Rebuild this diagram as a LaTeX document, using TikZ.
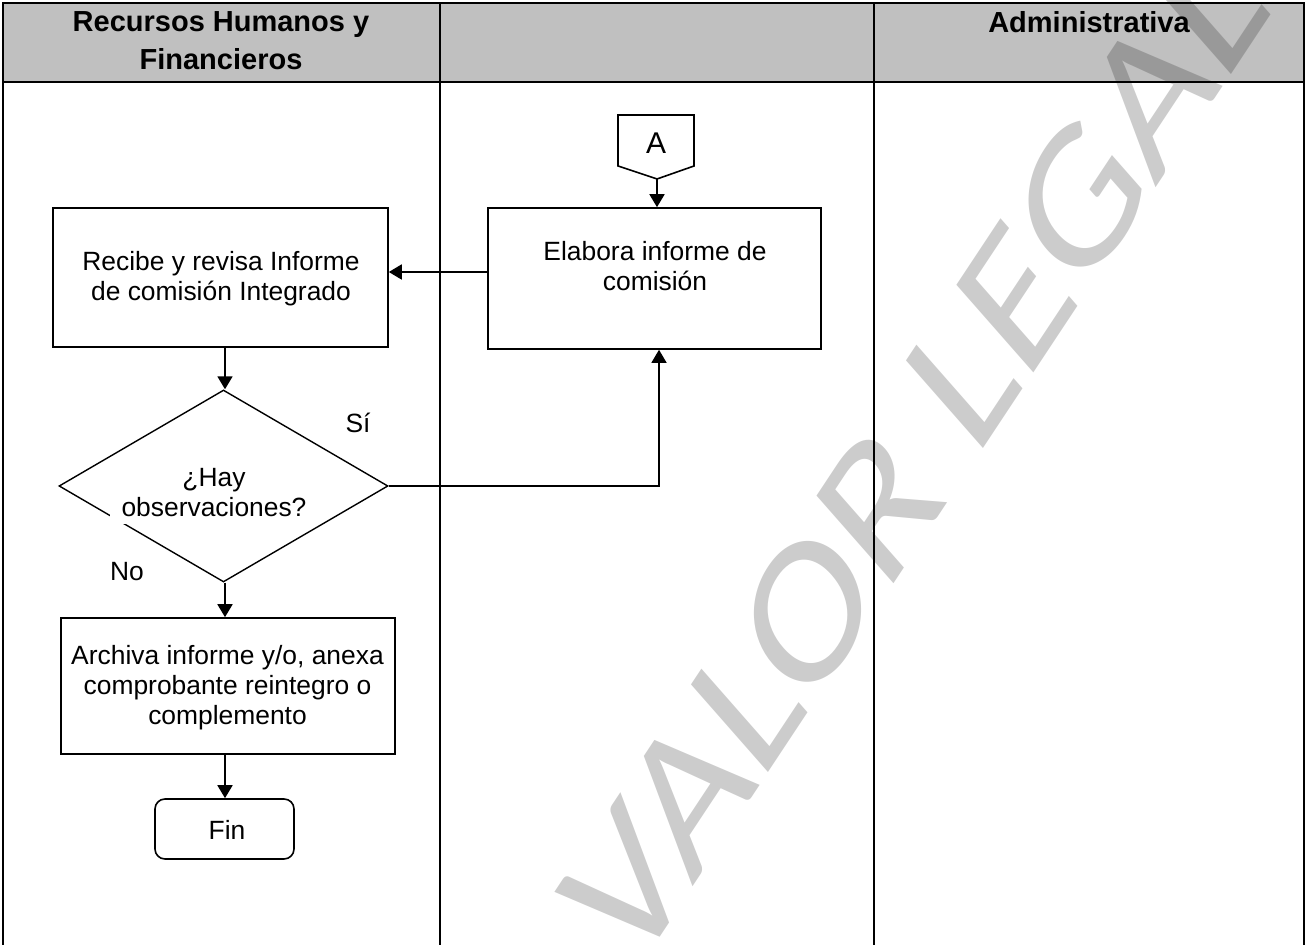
\documentclass[tikz,border=0pt]{standalone}
\usepackage{fontspec}
\setmainfont{Liberation Sans}
\newfontfamily\wmfont{Carlito}
\usetikzlibrary{arrows.meta,shapes.geometric}
\definecolor{hdrgray}{HTML}{C0C0C0}
\begin{document}
\begin{tikzpicture}[x=0.5pt,y=-0.5pt,
  tbl/.style={line width=1.2pt},
  box/.style={draw, line width=0.8pt, rectangle, inner sep=0pt},
  txt/.style={font=\fontsize{13.2}{15}\selectfont, align=center, inner sep=0pt},
  hdr/.style={font=\bfseries\fontsize{14.5}{19}\selectfont, align=center, inner sep=0pt},
  arr/.style={line width=0.9pt, -{Triangle[width=7.5pt,length=6.5pt]}}]
\useasboundingbox (0,0) rectangle (1307,945);
\clip (0,0) rectangle (1307,945);
% table
\fill[hdrgray] (3,3) rectangle (1304,82);
\draw[tbl] (3,960) -- (3,3) -- (1304,3) -- (1304,960);
\draw[tbl] (3,82) -- (1304,82);
\draw[tbl] (440,3) -- (440,960);
\draw[tbl] (874,3) -- (874,960);
\node[hdr] (h1) at (221,41) {Recursos Humanos y\\Financieros};
\node[hdr] (h3) at (1089,22) {Administrativa};
% helper coordinates
\coordinate (cx) at (225,0);
\coordinate (ax) at (659,0);
\coordinate (hy) at (0,272);
% off-page connector A
\draw[line width=0.8pt] (618,115) -- (694,115) -- (694,166) -- (657,179) -- (618,166) -- cycle;
\coordinate (Atip) at (657,179);
\node[txt, font=\fontsize{15}{17}\selectfont] (A) at (656,143) {A};
% boxes
\node[box, minimum width=166.5pt, minimum height=70.5pt] (elab) at (654.5,278.5) {};
\node[txt] (elabT) at (655,266) {Elabora informe de\\comisión};
\node[box, minimum width=167.5pt, minimum height=69.5pt] (recibe) at (220.5,277.5) {};
\node[txt] (recibeT) at (221,279) {Recibe y revisa Informe\\de comisión Integrado};
\node[draw, diamond, line width=0.7pt, minimum width=164.5pt, minimum height=96pt, inner sep=0pt] (dia) at (223.5,486) {};
\node[txt, fill=white, minimum width=104pt, minimum height=31.5pt] (diaT) at (214,493) {¿Hay\\observaciones?};
\node[txt] (si) at (358,423) {Sí};
\node[txt] (no) at (127,572) {No};
\node[box, minimum width=167pt, minimum height=68pt] (archiva) at (228,686) {};
\node[txt] (archivaT) at (227.5,688) {Archiva informe y/o, anexa\\comprobante reintegro o\\complemento};
\node[box, rounded corners=5pt, minimum width=69.5pt, minimum height=30pt] (fin) at (224.5,829) {};
\node[txt] (finT) at (227,830) {Fin};
% connectors
\draw[arr] (Atip) -- (Atip |- elab.north);
\draw[arr] (elab.west |- hy) -- (recibe.east |- hy);
\draw[arr] (recibe.south -| cx) -- (dia.north -| cx);
\draw[line width=0.7pt, -{Triangle[width=7.5pt,length=6.5pt]}] (dia.east) -- (dia.east -| ax) -- (elab.south -| ax);
\draw[arr] (dia.south -| cx) -- (archiva.north -| cx);
\draw[arr] (archiva.south -| cx) -- (fin.north -| cx);
% watermark
\begin{scope}[shift={(443,1265)}, cm={5.88,8.88,-6.0,6.83,(0,0)}]
\node[transform shape, anchor=base west, inner sep=0pt, font=\wmfont\fontsize{10}{12}\selectfont, text=black, text opacity=0.2] (wm) {SIN VALOR LEGAL};
\end{scope}
\end{tikzpicture}
\end{document}
